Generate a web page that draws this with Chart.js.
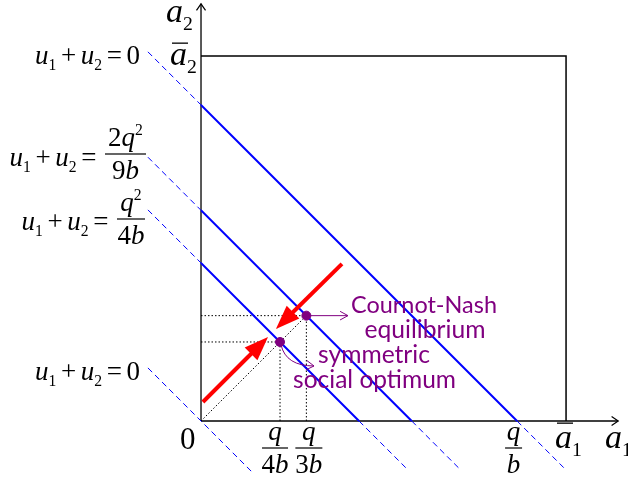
<!DOCTYPE html>
<html><head><meta charset="utf-8">
<script src="https://cdn.jsdelivr.net/npm/chart.js@4"></script>
<style>html,body{margin:0;padding:0;background:#fff;}#wrap{width:628px;height:482px;}</style>
</head><body><div id="wrap"><canvas id="c" width="628" height="482"></canvas></div>
<script>
// ---- data (units: q/b = 1) ----
const isoLevels = [1, 2/3, 1/2];          // a1 + a2 = q/b, 2q/3b, q/2b
const zeroLevel = 0;                       // u1 + u2 = 0 through origin
const nashPoint = [1/3, 1/3];              // Cournot-Nash equilibrium
const optimumPoint = [1/4, 1/4];           // symmetric social optimum
const aBar = 1.155;                        // a-bar_1 = a-bar_2
const xTickValues = [1/4, 1/3, 1];
const xTickLabels = [['q','4b'], ['q','3b'], ['q','b']];
const redArrowStarts = [[0.006, 0.060], [0.446, 0.497]];
const redArrowTips   = [[0.212, 0.266], [0.237, 0.291]];
const textNash = ['Cournot-Nash', 'equilibrium'];
const textOpt = ['symmetric', 'social optimum'];

// ---- layout / style ----
const axisEnd = 1.32, dashBack = 0.168, dashFwd = 0.15;
const BLUE = '#0000ff', PURPLE = '#800080', RED = '#ff0000';
const SERIF = '"Liberation Serif", "Times New Roman", serif';

const datasets = [];
function seg(pts, color, width, dash, order) {
  datasets.push({data: pts.map(p => ({x: p[0], y: p[1]})), showLine: true, borderColor: color,
    borderWidth: width, borderDash: dash || [], pointRadius: 0, fill: false, tension: 0, order: order});
}
// points
datasets.push({data: [nashPoint, optimumPoint].map(p => ({x: p[0], y: p[1]})), showLine: false,
  pointRadius: 4.5, pointBackgroundColor: PURPLE, pointBorderColor: PURPLE, order: 0});
// red arrow shafts (ending under the heads)
redArrowStarts.forEach((s, i) => {
  const t = redArrowTips[i], dx = t[0]-s[0], dy = t[1]-s[1], L = Math.hypot(dx, dy);
  const back = 0.045;
  seg([s, [t[0]-dx/L*back, t[1]-dy/L*back]], RED, 4, null, 1);
});
// axes
seg([[0,0],[axisEnd,0]], '#000', 1.3, null, 5);
seg([[0,0],[0,axisEnd]], '#000', 1.3, null, 5);
// box
seg([[0,aBar],[aBar,aBar],[aBar,0]], '#000', 1.5, null, 5);
// iso lines
isoLevels.forEach(c => {
  seg([[0,c],[c,0]], BLUE, 2, null, 3);
  seg([[-dashBack, c+dashBack],[0,c]], BLUE, 1, [6,4], 4);
  seg([[c,0],[c+dashFwd,-dashFwd]], BLUE, 1, [6,4], 4);
});
seg([[-dashBack, zeroLevel+dashBack],[zeroLevel+0.161, -0.161]], BLUE, 1, [6,4], 4);
// dotted guides
seg([[0,0], nashPoint], '#000', 1, [1.5,2], 6);
[nashPoint, optimumPoint].forEach(p => {
  seg([[0,p[1]], p], '#000', 1, [1.5,2], 6);
  seg([[p[0],0], p], '#000', 1, [1.5,2], 6);
});
// purple pointer from Nash point
seg([nashPoint, [0.465, nashPoint[1]]], PURPLE, 1, null, 2);

function drawRun(ctx, items, x, y, size, draw) {
  let cx = x;
  for (const [t, k] of items) {
    let font, dy = 0, pad = 0;
    if (k === 'i') font = `italic ${size}px ${SERIF}`;
    else if (k === 'sub') { font = `${size*0.58}px ${SERIF}`; dy = size*0.24; }
    else if (k === 'sup') { font = `${size*0.58}px ${SERIF}`; dy = -size*0.42; }
    else if (k === 'op') { font = `${size}px ${SERIF}`; pad = size*0.17; }
    else font = `${size}px ${SERIF}`;
    ctx.font = font;
    cx += pad;
    if (draw) ctx.fillText(t, cx, y + dy);
    cx += ctx.measureText(t).width + pad;
  }
  return cx - x;
}
function runRight(ctx, items, right, y, size) {
  const w = drawRun(ctx, items, 0, 0, size, false);
  drawRun(ctx, items, right - w, y, size, true);
}
function runCenter(ctx, items, cx, y, size) {
  const w = drawRun(ctx, items, 0, 0, size, false);
  drawRun(ctx, items, cx - w/2, y, size, true);
}
function fraction(ctx, num, den, cx, barY, barW, size) {
  ctx.fillRect(cx - barW/2, barY - 0.6, barW, 1.2);
  runCenter(ctx, num, cx, barY - 8, size);
  runCenter(ctx, den, cx, barY + 25, size);
}
function chevron(ctx, tx, ty, ang, len, spread) {
  ctx.beginPath();
  ctx.moveTo(tx - len*Math.cos(ang - spread), ty - len*Math.sin(ang - spread));
  ctx.lineTo(tx, ty);
  ctx.lineTo(tx - len*Math.cos(ang + spread), ty - len*Math.sin(ang + spread));
  ctx.stroke();
}
function fitText(ctx, text, cx, y, width, family) {
  ctx.font = `20px ${family}`;
  const s = 20 * width / ctx.measureText(text).width;
  ctx.font = `${s}px ${family}`;
  ctx.textAlign = 'center';
  ctx.fillText(text, cx, y);
  ctx.textAlign = 'left';
}

const U = [['u','i'],['1','sub'],['+','op'],['u','i'],['2','sub'],['=','op']];

const overlay = {
  id: 'overlay',
  afterDatasetsDraw(chart) {
    const ctx = chart.ctx, X = chart.scales.x, Y = chart.scales.y;
    const px = v => X.getPixelForValue(v), py = v => Y.getPixelForValue(v);
    ctx.save();
    // axis arrowheads
    ctx.strokeStyle = '#000'; ctx.lineWidth = 1.2;
    chevron(ctx, px(axisEnd), py(0), 0, 8, 0.6);
    chevron(ctx, px(0), py(axisEnd), -Math.PI/2, 8, 0.6);
    // red heads
    ctx.fillStyle = RED;
    redArrowStarts.forEach((s, i) => {
      const t = redArrowTips[i];
      const tx = px(t[0]), ty = py(t[1]);
      const ang = Math.atan2(ty - py(s[1]), tx - px(s[0]));
      const L = 24, W = 9;
      const bx = tx - L*Math.cos(ang), by = ty - L*Math.sin(ang);
      ctx.beginPath();
      ctx.moveTo(tx, ty);
      ctx.lineTo(bx + W*Math.sin(ang), by - W*Math.cos(ang));
      ctx.lineTo(bx - W*Math.sin(ang), by + W*Math.cos(ang));
      ctx.closePath(); ctx.fill();
    });
    // purple pointers
    ctx.strokeStyle = PURPLE; ctx.lineWidth = 1;
    chevron(ctx, px(0.465), py(nashPoint[1]), 0, 9, 0.5);
    const ox = px(optimumPoint[0]), oy = py(optimumPoint[1]);
    ctx.beginPath();
    ctx.moveTo(ox + 1, oy + 3);
    ctx.quadraticCurveTo(ox + 6, oy + 24, ox + 34, oy + 24);
    ctx.stroke();
    chevron(ctx, ox + 34, oy + 24, 0.1, 9, 0.55);
    // purple labels
    ctx.fillStyle = PURPLE;
    const fam = 'Lato, "Open Sans", sans-serif';
    fitText(ctx, textNash[0], 424, 313, 146, fam);
    fitText(ctx, textNash[1], 425, 338, 121, fam);
    fitText(ctx, textOpt[0], 374, 363, 112, fam);
    fitText(ctx, textOpt[1], 374.5, 388, 163, fam);
    // math labels
    ctx.fillStyle = '#000';
    runRight(ctx, U.concat([['0','r']]), 140, 64, 27);
    runRight(ctx, U.concat([['0','r']]), 140, 380, 27);
    runRight(ctx, U, 101, 166, 27);
    fraction(ctx, [['2','r'],['q','i'],['2','sup']], [['9','r'],['b','i']], 125.5, 154, 41, 27);
    runRight(ctx, U, 113, 230, 27);
    fraction(ctx, [['q','i'],['2','sup']], [['4','r'],['b','i']], 131, 219, 28, 27);
    // axis labels
    drawRun(ctx, [['a','i'],['2','sub']], 166, 22, 34, true);
    drawRun(ctx, [['a','i'],['2','sub']], 170, 65, 34, true);
    ctx.fillRect(172, 42.5, 16, 1.3);
    drawRun(ctx, [['0','r']], 180, 449, 31, true);
    drawRun(ctx, [['a','i'],['1','sub']], 555, 448, 34, true);
    ctx.fillRect(557, 422.5, 16, 1.3);
    drawRun(ctx, [['a','i'],['1','sub']], 605, 448, 34, true);
    // tick fractions
    const tickShift = [-5, 2.5, -3.5], tickBar = [26, 27, 17];
    xTickValues.forEach((v, i) => {
      const [n, d] = xTickLabels[i];
      const den = d.length > 1 ? [[d[0],'r'],[d.slice(1),'i']] : [[d,'i']];
      fraction(ctx, [[n,'i']], den, px(v) + tickShift[i], 448, tickBar[i], 27);
    });
    ctx.restore();
  }
};

new Chart(document.getElementById('c'), {
  type: 'scatter',
  data: {datasets},
  options: {
    responsive: false, animation: false, devicePixelRatio: 1,
    layout: {padding: 0, autoPadding: false},
    plugins: {legend: {display: false}, tooltip: {enabled: false}},
    scales: {
      x: {type: 'linear', min: -0.636, max: 1.351, display: false},
      y: {type: 'linear', min: -0.193, max: 1.332, display: false}
    }
  },
  plugins: [overlay]
});
</script></body></html>
